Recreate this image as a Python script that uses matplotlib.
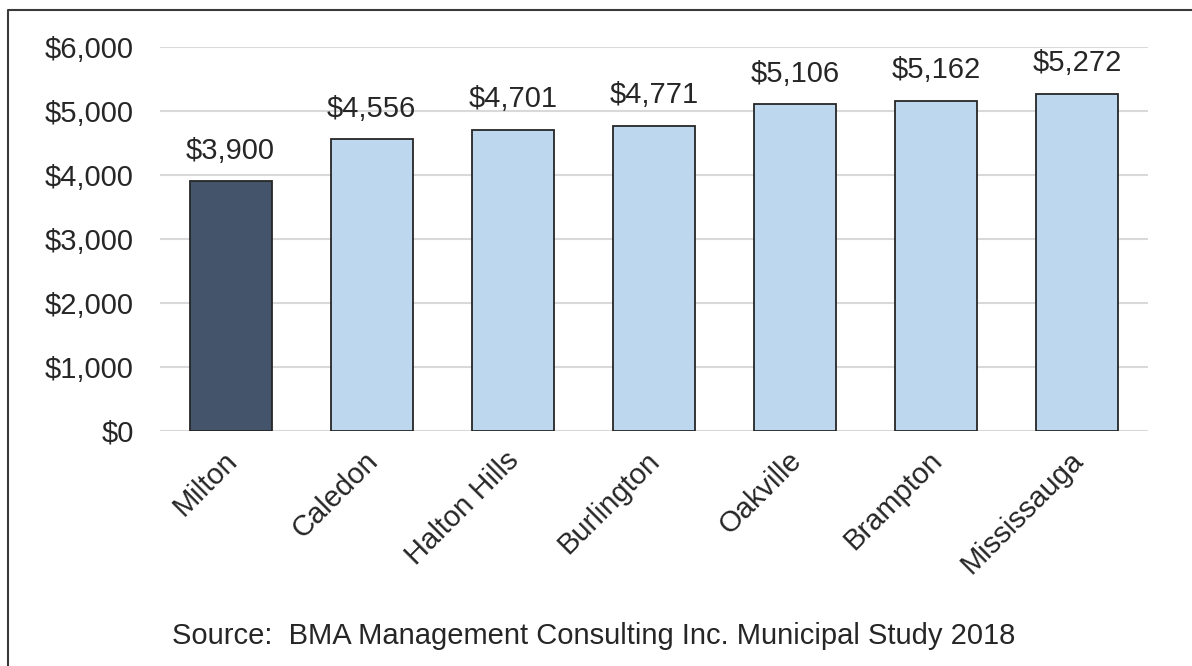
import matplotlib
matplotlib.use("Agg")
import matplotlib.pyplot as plt
from matplotlib.lines import Line2D
from matplotlib.ticker import FuncFormatter
from matplotlib.transforms import ScaledTranslation

plt.rcParams["font.family"] = ["Liberation Sans", "DejaVu Sans"]

cities = ["Milton", "Caledon", "Halton Hills", "Burlington", "Oakville", "Brampton", "Mississauga"]
values = [3900, 4556, 4701, 4771, 5106, 5162, 5272]
highlight = "Milton"
source = "Source:  BMA Management Consulting Inc. Municipal Study 2018"

TXT = "#262626"
FS = 21
W, H = 1192, 666
fig = plt.figure(figsize=(W / 100, H / 100), dpi=100)
ax = fig.add_axes([160 / W, 1 - 431 / H, (1148 - 160) / W, (431 - 47) / H])

colors = ["#44546A" if c == highlight else "#BDD7EE" for c in cities]
bars = ax.bar(range(len(cities)), values, width=0.58, color=colors,
              edgecolor="#262626", linewidth=1.3, zorder=3)
ax.bar_label(bars, labels=[f"${v:,}" for v in values], padding=12,
             fontsize=FS, color=TXT)

ax.set_xlim(-0.5, len(cities) - 0.5)
ax.set_ylim(0, 6000)
ax.set_yticks(range(0, 6001, 1000))
ax.yaxis.set_major_formatter(FuncFormatter(lambda v, p: f"${v:,.0f}"))
ax.grid(axis="y", color="#D9D9D9", linewidth=1.5, zorder=0)
for s in ax.spines.values():
    s.set_visible(False)
ax.tick_params(axis="both", length=0, labelsize=FS, labelcolor=TXT)
ax.tick_params(axis="y", pad=19)
ax.tick_params(axis="x", pad=11)
ax.set_xticks(range(len(cities)))
ax.set_xticklabels(cities, rotation=45, ha="right", rotation_mode="anchor")
shift = ScaledTranslation(-8 / 100, 0, fig.dpi_scale_trans)
for lbl in ax.get_xticklabels():
    lbl.set_transform(lbl.get_transform() + shift)

fig.text(172 / W, 1 - 636 / H, source, fontsize=FS, color=TXT, va="center", ha="left")

# outer frame (top and left edges visible in the reference)
fig.add_artist(Line2D([8 / W, 8 / W, 1.0], [0.0, 1 - 10 / H, 1 - 10 / H],
                      transform=fig.transFigure, color="#3a3a3a", linewidth=1.5))

fig.savefig("out.png", dpi=100)
